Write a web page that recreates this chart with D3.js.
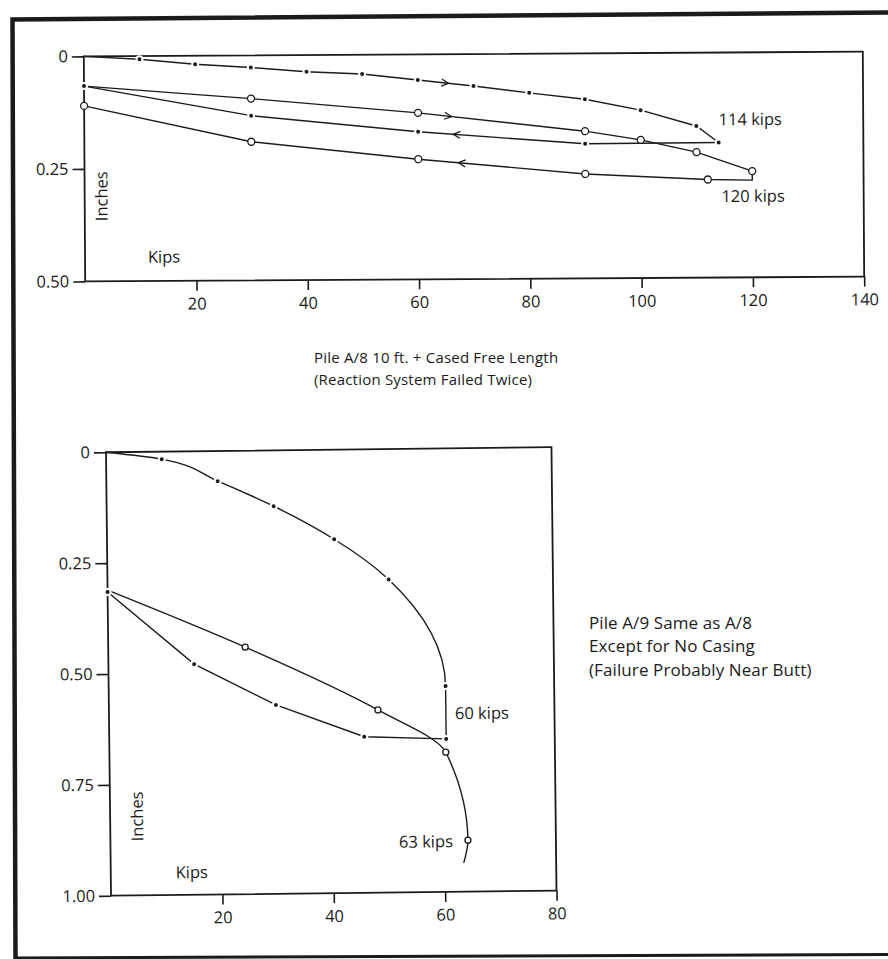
<!DOCTYPE html>
<html>
<head>
<meta charset="utf-8">
<script src="https://cdn.jsdelivr.net/npm/d3@7"></script>
<style>
    body { margin: 0; background: #fff; }
    text { font-family: "Open Sans", Lato, sans-serif; fill: #1b1b1b; }
</style>
</head>
<body>
<svg id="chart" width="888" height="959"></svg>
<script>
// ---- Pile A/8 (upper chart) ----
var a8XTicks = [20, 40, 60, 80, 100, 120, 140]
var a8YTicks = [0, 0.25, 0.5]
var a8YTickLabels = ["0", "0.25", "0.50"]
// points are [kips, inches]
var a8Load1 = [[0, 0], [10, 0.007], [20, 0.019], [30, 0.027], [40, 0.037], [50, 0.043], [60, 0.057],
    [70, 0.071], [80, 0.087], [90, 0.102], [100, 0.127], [110, 0.163], [114, 0.200]]
var a8Unload1 = [[114, 0.200], [90, 0.201], [60, 0.172], [30, 0.134], [0, 0.066]]
var a8Load2 = [[0, 0.066], [30, 0.096], [60, 0.130], [90, 0.173], [100, 0.193], [110, 0.221], [120, 0.264]]
var a8Unload2 = [[120, 0.264], [120, 0.284], [112, 0.282], [90, 0.268], [60, 0.233], [30, 0.192], [0, 0.110]]
// where the direction arrows sit on each curve (kips)
var a8ArrowsAt = [65.5, 66.3, 66, 67.2]
var a8PeakLabels = ["114 kips", "120 kips"]
var a8Caption = ["Pile A/8 10 ft. + Cased Free Length", "(Reaction System Failed Twice)"]

// ---- Pile A/9 (lower chart) ----
var a9XTicks = [20, 40, 60, 80]
var a9YTicks = [0, 0.25, 0.5, 0.75, 1]
var a9YTickLabels = ["0", "0.25", "0.50", "0.75", "1.00"]
var a9Load1 = [[0, 0], [10, 0.017], [20, 0.068], [30, 0.126], [40.8, 0.202], [50.5, 0.294], [60.5, 0.536], [60.5, 0.655]]
var a9Unload1 = [[60.5, 0.655], [45.8, 0.648], [30, 0.574], [15.4, 0.480], [0, 0.315]]
var a9Load2 = [[0, 0.311], [24.6, 0.443], [48.3, 0.588], [60.4, 0.685], [64.2, 0.884], [63.4, 0.935]]
var a9PeakLabels = ["60 kips", "63 kips"]
var a9Caption = ["Pile A/9 Same as A/8", "Except for No Casing", "(Failure Probably Near Butt)"]

var ink = "#1b1b1b";
var svg = d3.select("#chart");

// outer frame of the scanned page
svg.append("path")
    .attr("d", "M888,12.5 L12.5,19.5 L15.5,959")
    .attr("fill", "none").attr("stroke", ink).attr("stroke-width", 4.5);
svg.append("path")
    .attr("d", "M15,958 L888,954.5")
    .attr("fill", "none").attr("stroke", ink).attr("stroke-width", 3);

function styleAxis(a) {
    a.attr("font-family", null).attr("font-size", null);
    a.selectAll("line").attr("stroke", ink).attr("stroke-width", 1.6);
    a.selectAll("text").style("font-size", "16.5px");
}

// draws one load-settlement panel
function panel(opt) {
    var g = svg.append("g")
        .attr("transform", "rotate(" + opt.tilt + "," + opt.cx + "," + opt.cy + ")");

    var x = d3.scaleLinear().domain(opt.xDomain).range(opt.xRange);
    var y = d3.scaleLinear().domain(opt.yDomain).range(opt.yRange);

    // y axis ticks + labels
    g.append("g")
        .attr("transform", "translate(" + x(0) + ",0)")
        .call(d3.axisLeft(y).tickValues(opt.yTicks).tickSize(12).tickPadding(4)
            .tickFormat(function (d, i) { return opt.yLabels[i] }))
        .call(function (a) { a.select(".domain").remove() })
        .call(styleAxis);

    // x axis ticks + labels
    g.append("g")
        .attr("transform", "translate(0," + y(opt.yDomain[1]) + ")")
        .call(d3.axisBottom(x).tickValues(opt.xTicks).tickSize(10).tickPadding(7))
        .call(function (a) { a.select(".domain").remove() })
        .call(styleAxis);

    // plot frame
    g.append("rect")
        .attr("x", x(0)).attr("y", y(0))
        .attr("width", x(opt.xDomain[1]) - x(0))
        .attr("height", y(opt.yDomain[1]) - y(0))
        .attr("fill", "none").attr("stroke", ink).attr("stroke-width", 1.8);

    // curves
    opt.series.forEach(function (s) {
        var line = d3.line()
            .x(function (d) { return x(d[0]) })
            .y(function (d) { return y(d[1]) })
            .curve(s.curve || d3.curveLinear);
        g.append("path")
            .datum(s.data)
            .attr("d", line)
            .attr("fill", "none")
            .attr("stroke", ink)
            .attr("stroke-width", 1.4);
    });

    // markers on top of the curves
    opt.series.forEach(function (s) {
        var pts = s.data.filter(function (d, i) { return s.skip.indexOf(i) < 0 });
        if (s.mark === "dot") {
            g.selectAll(null).data(pts).enter().append("circle")
                .attr("cx", function (d) { return x(d[0]) })
                .attr("cy", function (d) { return y(d[1]) })
                .attr("r", 2)
                .attr("fill", ink)
                .attr("stroke", "#fff").attr("stroke-width", 4)
                .style("paint-order", "stroke");
        } else {
            g.selectAll(null).data(pts).enter().append("circle")
                .attr("cx", function (d) { return x(d[0]) })
                .attr("cy", function (d) { return y(d[1]) })
                .attr("r", opt.ring)
                .attr("fill", "#fff")
                .attr("stroke", ink).attr("stroke-width", 1.3);
        }
    });

    // travel direction arrows
    var arrows = opt.arrows || [];
    arrows.forEach(function (at, k) {
        var d = opt.series[k].data;
        for (var i = 0; i < d.length - 1; i++) {
            var lo = Math.min(d[i][0], d[i + 1][0]), hi = Math.max(d[i][0], d[i + 1][0]);
            if (at >= lo && at <= hi && hi > lo) {
                var t = (at - d[i][0]) / (d[i + 1][0] - d[i][0]);
                var px = x(at), py = y(d[i][1] + t * (d[i + 1][1] - d[i][1]));
                var ang = Math.atan2(y(d[i + 1][1]) - y(d[i][1]), x(d[i + 1][0]) - x(d[i][0])) * 180 / Math.PI;
                g.append("path")
                    .attr("d", "M-7,-3.5 L0,0 L-7,3.5")
                    .attr("transform", "translate(" + px + "," + py + ") rotate(" + ang + ")")
                    .attr("fill", "none").attr("stroke", ink).attr("stroke-width", 1.3);
                break;
            }
        }
    });

    // axis titles inside the frame
    g.append("text")
        .attr("transform", "translate(" + (x(0) + opt.inchesAt[0]) + "," + (y(opt.yDomain[1]) + opt.inchesAt[1]) + ") rotate(-90)")
        .attr("text-anchor", "middle").attr("dy", "0.35em")
        .style("font-size", "16.5px")
        .text("Inches");
    g.append("text")
        .attr("x", x(0) + opt.kipsAt[0]).attr("y", y(opt.yDomain[1]) + opt.kipsAt[1])
        .attr("text-anchor", "middle").attr("dy", "0.35em")
        .style("font-size", "16.5px")
        .text("Kips");

    return { g: g, x: x, y: y };
}

// upper chart
var top8 = panel({
    tilt: -0.35, cx: 476, cy: 167,
    xDomain: [0, 140], xRange: [84.5, 863.5],
    yDomain: [0, 0.5], yRange: [54, 279],
    xTicks: a8XTicks, yTicks: a8YTicks, yLabels: a8YTickLabels,
    ring: 3.5,
    series: [
        { data: a8Load1, mark: "dot", skip: [0] },
        { data: a8Unload1, mark: "dot", skip: [0] },
        { data: a8Load2, mark: "circle", skip: [0] },
        { data: a8Unload2, mark: "circle", skip: [0, 1] }
    ],
    arrows: a8ArrowsAt,
    inchesAt: [17, -85], kipsAt: [79, -24]
});
top8.g.append("text")
    .attr("x", top8.x(a8Load1[12][0])).attr("y", top8.y(a8Load1[12][1]) - 23)
    .attr("dy", "0.35em").style("font-size", "16.5px")
    .text(a8PeakLabels[0]);
top8.g.append("text")
    .attr("x", top8.x(a8Unload2[1][0]) - 31).attr("y", top8.y(a8Unload2[1][1]) + 16)
    .attr("dy", "0.35em").style("font-size", "16.5px")
    .text(a8PeakLabels[1]);

// lower chart
var bot9 = panel({
    tilt: -0.65, cx: 331, cy: 672,
    xDomain: [0, 80], xRange: [108.5, 554],
    yDomain: [0, 1], yRange: [449.7, 893.2],
    xTicks: a9XTicks, yTicks: a9YTicks, yLabels: a9YTickLabels,
    ring: 3,
    series: [
        { data: a9Load1, mark: "dot", skip: [0], curve: d3.curveMonotoneY },
        { data: a9Unload1, mark: "dot", skip: [0] },
        { data: a9Load2, mark: "circle", skip: [0, 5], curve: d3.curveMonotoneY }
    ],
    inchesAt: [27, -79], kipsAt: [81, -22.5]
});
bot9.g.append("text")
    .attr("x", bot9.x(a9Load1[7][0]) + 9).attr("y", bot9.y((a9Load1[6][1] + a9Load1[7][1]) / 2) + 1)
    .attr("dy", "0.35em").style("font-size", "16.5px")
    .text(a9PeakLabels[0]);
bot9.g.append("text")
    .attr("x", bot9.x(a9Load2[4][0]) - 15).attr("y", bot9.y(a9Load2[4][1]) + 1)
    .attr("text-anchor", "end").attr("dy", "0.35em").style("font-size", "16.5px")
    .text(a9PeakLabels[1]);

// captions
svg.selectAll(".cap8").data(a8Caption).enter().append("text")
    .attr("x", 314).attr("y", function (d, i) { return 358 + i * 22 })
    .attr("dy", "0.35em").style("font-size", "15px").style("letter-spacing", "0.2px")
    .text(function (d) { return d });
svg.selectAll(".cap9").data(a9Caption).enter().append("text")
    .attr("x", 589).attr("y", function (d, i) { return 623 + i * 23.5 })
    .attr("dy", "0.35em").style("font-size", "17px").style("letter-spacing", "0.1px")
    .text(function (d) { return d });
</script>
</body>
</html>
